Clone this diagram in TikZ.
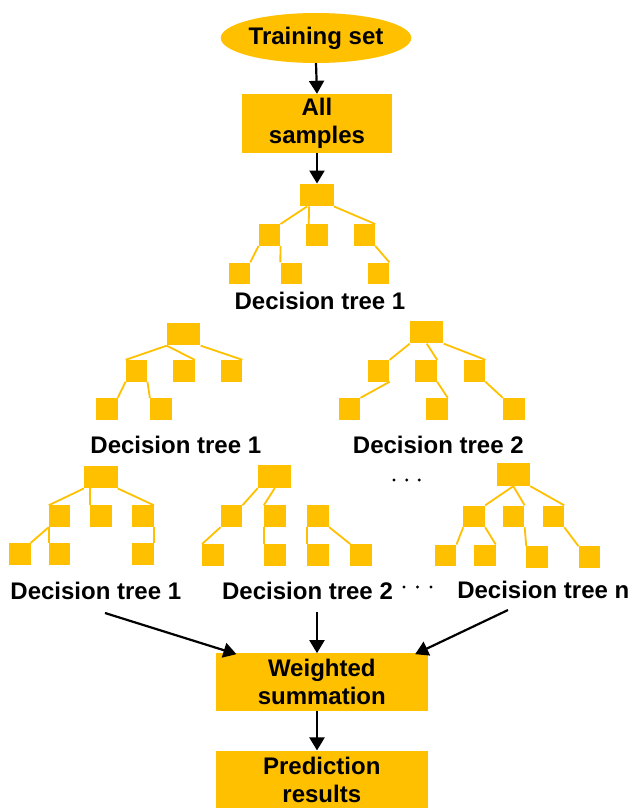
\documentclass[tikz,border=0pt]{standalone}
\usepackage{fontspec}
\setmainfont{Liberation Sans}
\usetikzlibrary{arrows.meta,calc,shapes.geometric}
\definecolor{gold}{HTML}{FFC000}
\begin{document}
\begin{tikzpicture}[x=1pt,y=-1pt,
  lf/.style={fill=gold, minimum width=21.5pt, minimum height=21.5pt, inner sep=0pt},
  rt/.style={fill=gold, minimum width=33.5pt, minimum height=22.5pt, inner sep=0pt},
  br/.style={draw=gold, line width=1.8pt},
  lbl/.style={font=\fontsize{24}{28}\selectfont\bfseries, anchor=base, inner sep=0pt},
  bx/.style={fill=gold, font=\fontsize{24}{28}\selectfont\bfseries, align=center, inner sep=0pt},
  arr/.style={-{Triangle[length=13pt,width=15pt]}, line width=2.2pt, black},
  dotc/.style={fill=black, circle, inner sep=0pt, minimum size=3.2pt}]
\useasboundingbox (0,0) rectangle (633,808);

% top
\node[bx, ellipse, minimum width=158pt, minimum height=50pt] (ts) at (316,38) {Training set};
\node[bx, minimum width=150pt, minimum height=59pt] (all) at (317,123.5) {All\\samples};

% tree A
\node[rt] (Ar) at (317,195) {};
\node[lf] (Aa) at (269.5,235) {};
\node[lf] (Ab) at (317.2,235) {};
\node[lf] (Ac) at (364.3,235) {};
\node[lf] (Ad) at (239.3,273.3) {};
\node[lf] (Ae) at (291.3,273.3) {};
\node[lf] (Af) at (378.5,273.3) {};
\draw[br] ($(Ar.south west)+(7,0)$) -- (Aa.north east);
\draw[br] ($(Ar.south west)+(9,0)$) -- ($(Ab.north west)+(2.5,0)$);
\draw[br] (Ar.south east) -- (Ac.north east);
\draw[br] (Aa.south west) -- (Ad.north east);
\draw[br] (Aa.south east) -- (Ae.north west);
\draw[br] (Ac.south east) -- (Af.north east);
\node[lbl] (lA) at (320,309) {Decision tree 1};

% tree B
\node[rt] (Br) at (183.7,334.2) {};
\node[lf] (Ba) at (136.5,370.8) {};
\node[lf] (Bb) at (183.8,370.8) {};
\node[lf] (Bc) at (231.5,370.8) {};
\node[lf] (Bd) at (106.8,408.8) {};
\node[lf] (Be) at (160.8,408.8) {};
\draw[br] (Br.south west) -- (Ba.north west);
\draw[br] (Br.south west) -- (Bb.north east);
\draw[br] (Br.south east) -- (Bc.north east);
\draw[br] (Ba.south west) -- (Bd.north east);
\draw[br] (Ba.south east) -- (Be.north west);
\node[lbl] (lB) at (175.8,453) {Decision tree 1};

% tree C
\node[rt] (Cr) at (426.7,332.2) {};
\node[lf] (Ca) at (378.7,370.8) {};
\node[lf] (Cb) at (426.2,370.8) {};
\node[lf] (Cc) at (474.5,370.8) {};
\node[lf] (Cd) at (349.5,408.8) {};
\node[lf] (Ce) at (436.8,408.8) {};
\node[lf] (Cf) at (513.8,408.8) {};
\draw[br] (Cr.south west) -- (Ca.north east);
\draw[br] (Cr.south) -- (Cb.north east);
\draw[br] (Cr.south east) -- (Cc.north east);
\draw[br] (Ca.south east) -- (Cd.north east);
\draw[br] (Cb.south east) -- (Ce.north east);
\draw[br] (Cc.south east) -- (Cf.north west);
\node[lbl] (lC) at (438.3,453) {Decision tree 2};

\node[dotc] (m1) at (394,480) {};
\node[dotc] (m2) at (406.7,480) {};
\node[dotc] (m3) at (419.3,480) {};

% tree D
\node[rt] (Dr) at (100.8,477) {};
\node[lf] (Da) at (59.7,516.2) {};
\node[lf] (Db) at (100.8,516.2) {};
\node[lf] (Dc) at (143,516.2) {};
\node[lf] (Dd) at (19.8,553.8) {};
\node[lf] (De) at (59.7,553.8) {};
\node[lf] (Df) at (143,553.8) {};
\draw[br] (Dr.south west) -- (Da.north west);
\draw[br] ($(Dr.south west)+(6,0)$) -- (Db.north west);
\draw[br] (Dr.south east) -- (Dc.north east);
\draw[br] (Da.south west) -- (Dd.north east);
\draw[br] (Da.south west) -- (De.north west);
\draw[br] (Dc.south east) -- (Df.north east);
\node[lbl] (lD) at (95.8,599) {Decision tree 1};

% tree E
\node[rt] (Er) at (274.7,476.7) {};
\node[lf] (Ea) at (231.5,516.2) {};
\node[lf] (Eb) at (274.8,516.2) {};
\node[lf] (Ec) at (318.2,516.2) {};
\node[lf] (Ed) at (213,555) {};
\node[lf] (Ee) at (274.8,555) {};
\node[lf] (Ef) at (318.2,555) {};
\node[lf] (Eg) at (361.2,555) {};
\draw[br] (Er.south west) -- (Ea.north east);
\draw[br] (Er.south) -- (Eb.north west);
\draw[br] (Ea.south west) -- (Ed.north west);
\draw[br] (Eb.south west) -- (Ee.north west);
\draw[br] (Ec.south west) -- (Ef.north west);
\draw[br] (Ec.south east) -- (Eg.north west);
\node[lbl] (lE) at (307.5,599) {Decision tree 2};

\node[dotc] (b1) at (404,587) {};
\node[dotc] (b2) at (417.5,587) {};
\node[dotc] (b3) at (431,587) {};

% tree F
\node[rt] (Fr) at (513.3,474.7) {};
\node[lf] (Fa) at (474.2,516.3) {};
\node[lf] (Fb) at (513.7,516.3) {};
\node[lf] (Fc) at (553.3,516.3) {};
\node[lf] (Fd) at (445.5,555.5) {};
\node[lf] (Fe) at (484.8,555.5) {};
\node[lf] (Ff) at (537.2,557.2) {};
\node[lf] (Fg) at (589.5,557.2) {};
\draw[br] (Fr.south) -- (Fa.north east);
\draw[br] (Fr.south) -- (Fb.north east);
\draw[br] (Fr.south east) -- (Fc.north east);
\draw[br] (Fa.south west) -- (Fd.north east);
\draw[br] (Fa.south east) -- (Fe.north east);
\draw[br] (Fb.south east) -- (Ff.north west);
\draw[br] (Fc.south east) -- (Fg.north west);
\node[lbl] (lF) at (543.3,598.5) {Decision tree n};

% bottom boxes
\node[bx, minimum width=211.7pt, minimum height=57.7pt] (ws) at (321.8,682.2) {Weighted\\summation};
\node[bx, minimum width=211.7pt, minimum height=58.3pt] (pr) at (321.8,779.8) {Prediction\\results};

% arrows
\draw[arr] (ts.south) -- (all.north);
\draw[arr] (all.south) -- (Ar.north);
\coordinate (s1) at (105,613);
\coordinate (s2) at (317,612);
\coordinate (s3) at (508,610);
\draw[arr] (s1) -- ($(ws.north west)+(20.7,1)$);
\draw[arr] (s2) -- (s2 |- ws.north);
\draw[arr] (s3) -- ($(ws.north east)+(-12.7,1)$);
\draw[arr] (ws.south -| s2) -- (pr.north -| s2);
\end{tikzpicture}
\end{document}
